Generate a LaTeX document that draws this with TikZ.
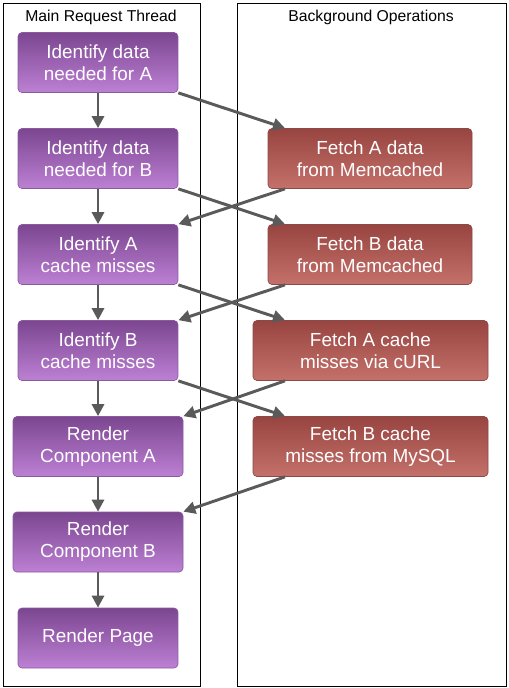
\documentclass[tikz,border=0pt]{standalone}
\usepackage{fontspec}
\setmainfont{Liberation Sans}
\usetikzlibrary{arrows.meta}
\definecolor{mainTop}{HTML}{7B4690}
\definecolor{mainBot}{HTML}{BD80D4}
\definecolor{mainLine}{HTML}{8A5A9E}
\definecolor{bgTop}{HTML}{984440}
\definecolor{bgBot}{HTML}{C4716B}
\definecolor{bgLine}{HTML}{8A4A45}
\definecolor{arrowGray}{HTML}{5A5A5A}
\tikzset{
    box/.style={rounded corners=3pt, draw, line width=0.5pt, text=white,
        align=center, minimum height=45pt, inner sep=0pt,
        font=\fontsize{14.2}{16.5}\selectfont},
    mainbox/.style={box, draw=mainLine, top color=mainTop, bottom color=mainBot,
        minimum width=120pt},
    widebox/.style={mainbox, minimum width=127.5pt},
    bgbox/.style={box, draw=bgLine, top color=bgTop, bottom color=bgBot,
        minimum width=153pt},
    bgwide/.style={bgbox, minimum width=176.25pt},
    flow/.style={draw=arrowGray, line width=2.2pt,
        -{Triangle[length=9pt,width=9pt]}},
    lane/.style={draw=black, line width=0.6pt}
}
\begin{document}
\begin{tikzpicture}[x=0.75pt,y=-0.75pt]
        \useasboundingbox (0,0) rectangle (508,688);
        \draw[lane] (3,3) rectangle (200,686);
        \draw[lane] (237,3) rectangle (506,686);
        \node[font=\fontsize{11.8}{13}\selectfont] (mrt) at (101,17) {Main Request Thread};
        \node[font=\fontsize{11.8}{13}\selectfont] (bgo) at (371,17) {Background Operations};

        \node[mainbox] (ida) at (98,62.5) {Identify data\\needed for A};
        \node[mainbox] (idb) at (98,158.5) {Identify data\\needed for B};
        \node[mainbox] (ima) at (98,254.5) {Identify A\\cache misses};
        \node[mainbox] (imb) at (98,350.5) {Identify B\\cache misses};
        \node[widebox] (rca) at (98,446.5) {Render\\Component A};
        \node[widebox] (rcb) at (98,542) {Render\\Component B};
        \node[mainbox] (rp) at (98,638) {Render Page};

        \node[bgbox] (fad) at (370,158.5) {Fetch A data\\from Memcached};
        \node[bgbox] (fbd) at (370,254.5) {Fetch B data\\from Memcached};
        \node[bgwide] (fam) at (370.5,350.5) {Fetch A cache\\misses via cURL};
        \node[bgwide] (fbm) at (370.5,446.5) {Fetch B cache\\misses from MySQL};

        \coordinate (cx) at (285,0);
        \draw[flow] (ida) -- (idb);
        \draw[flow] (idb) -- (ima);
        \draw[flow] (ima) -- (imb);
        \draw[flow] (imb) -- (rca);
        \draw[flow] (rca) -- (rcb);
        \draw[flow] (rcb) -- (rp);

        \draw[flow] (ida.south east) -- (fad.north -| cx);
        \draw[flow] (idb.south east) -- (fbd.north -| cx);
        \draw[flow] (ima.south east) -- (fam.north -| cx);
        \draw[flow] (imb.south east) -- (fbm.north -| cx);
        \draw[flow] (fad.south -| cx) -- (ima.north east);
        \draw[flow] (fbd.south -| cx) -- (imb.north east);
        \draw[flow] (fam.south -| cx) -- (rca.north east);
        \draw[flow] (fbm.south -| cx) -- (rcb.north east);
    \end{tikzpicture}
\end{document}
